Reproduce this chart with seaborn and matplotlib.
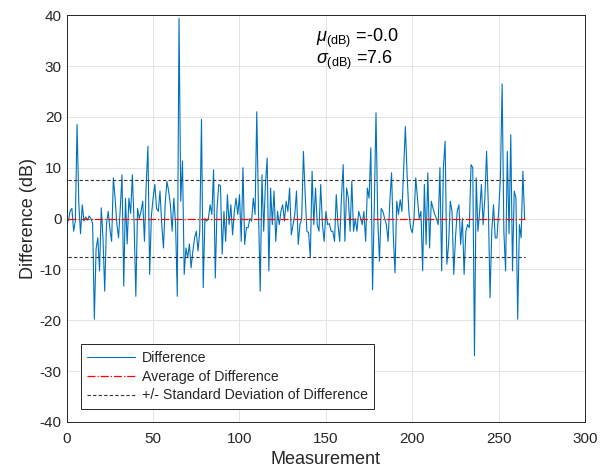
import numpy as np
import pandas as pd
import matplotlib
matplotlib.use('Agg')
import matplotlib.pyplot as plt
import seaborn as sns

diff_db = [
    -0.5, 1.5, 2.0, -2.5, -0.5, 18.5, 3.0, -3.0, 2.7, -0.5,
    0.3, -0.3, 0.5, 0.0, -1.0, -19.8, -6.0, -3.8, -10.3, 2.1,
    -4.0, -14.3, -1.2, 1.4, -2.0, -4.5, 8.0, 4.0, -1.0, -3.8,
    2.0, 8.6, -13.3, 4.0, -5.0, 4.0, 1.0, 8.6, -1.0, -15.3,
    2.0, 0.0, 1.4, 3.4, -4.5, 6.7, 14.2, -11.0, 0.5, 4.0,
    6.7, 2.0, 1.4, 5.4, -1.2, -5.8, 3.0, 7.3, 5.4, 2.7,
    -2.5, 4.0, -1.0, -15.3, 39.4, 3.4, 11.3, -11.0, -5.8, -7.7,
    -5.0, -9.7, -6.4, -3.8, -2.5, -6.4, -2.5, 19.5, -13.6, 0.0,
    -0.5, 0.0, 2.7, 0.8, 9.6, -11.7, 2.0, 6.7, 6.4, -7.0,
    1.4, -4.5, 4.7, -1.2, 2.7, -3.2, 1.4, 4.0, 0.8, 4.7,
    -4.5, 10.0, -5.1, -1.8, -1.8, 0.0, -0.5, 4.0, 0.8, 21.0,
    1.4, -14.3, 8.6, -2.5, 6.7, 11.9, -10.3, 6.0, -1.2, 5.4,
    -4.5, 1.4, -1.2, 1.4, 2.7, -0.5, 3.4, 1.4, 6.0, -3.2,
    -1.2, 0.8, 5.4, -5.1, -1.2, 0.0, 13.2, 4.7, -2.5, -2.8,
    -7.7, 9.3, -1.2, 6.0, -1.2, -2.5, 6.7, -1.2, -4.5, 1.4,
    -1.2, -1.0, -2.5, -2.5, -4.5, 4.7, -1.2, -4.5, 4.0, 10.6,
    -4.5, 6.0, 4.0, -2.5, 7.3, -2.5, 0.0, -2.5, 1.4, 0.2,
    -1.2, 1.4, -4.5, 6.0, 4.0, 13.9, -14.0, 2.0, 20.8, 0.0,
    -8.4, 2.0, 1.4, 0.0, -1.2, -4.5, 3.4, 9.0, -3.2, -10.7,
    3.4, 0.8, 3.7, 1.4, 10.0, 18.1, 8.6, 1.4, -1.8, -2.8,
    0.0, 8.0, 4.0, 0.0, 1.4, -10.3, 6.7, -5.1, 9.0, -5.8,
    3.4, 2.0, 0.8, 0.0, -1.2, 10.0, -10.3, 10.0, 15.2, -9.0,
    -5.1, 3.4, 1.4, -11.0, -3.8, 1.4, 2.7, -5.1, 0.0, -11.0,
    -2.5, -1.2, -1.8, 10.6, 10.0, -27.0, 8.0, -2.5, 1.4, 6.7,
    -1.2, 4.0, 13.2, 2.7, -15.6, -2.5, 2.7, -3.8, -3.8, 1.4,
    8.0, 26.5, -2.5, -10.3, 13.2, -3.0, 16.5, -10.3, 5.4, 4.0,
    -19.8, -1.2, -3.8, 9.3, 0.0,
]
measurement = list(range(1, len(diff_db) + 1))

mean_db = 0.0
std_db = 7.6
mean_label = '-0.0'
std_label = '7.6'

df = pd.DataFrame({'Measurement': measurement, 'Difference': diff_db})

sns.set_theme(style='whitegrid')
plt.rcParams['font.family'] = ['Liberation Sans', 'DejaVu Sans']
plt.rcParams['axes.unicode_minus'] = False
plt.rcParams['mathtext.fontset'] = 'custom'
plt.rcParams['mathtext.rm'] = 'Liberation Sans'
plt.rcParams['mathtext.it'] = 'Liberation Sans:italic'

fig = plt.figure(figsize=(6.12, 4.74), dpi=100)
ax = fig.add_axes([0.109, 0.110, 0.847, 0.858])

sns.lineplot(data=df, x='Measurement', y='Difference', ax=ax,
             color='#0072BD', linewidth=0.8, label='Difference')

x0, x1 = measurement[0], measurement[-1]
mean_line, = ax.plot([x0, x1], [mean_db, mean_db], linestyle='-.',
                     linewidth=0.9, label='Average of Difference')
mean_line.set_color('#ff0000')
ax.plot([x0, x1], [mean_db + std_db] * 2, color='#333333', linestyle='--',
        linewidth=0.8, dashes=(3, 2), label='+/- Standard Deviation of Difference')
ax.plot([x0, x1], [mean_db - std_db] * 2, color='#333333', linestyle='--',
        linewidth=0.8, dashes=(3, 2))

ax.set_xlim(0, 300)
ax.set_ylim(-40, 40)
ax.set_xticks(np.arange(0, 301, 50))
ax.set_yticks(np.arange(-40, 41, 10))
ax.set_xlabel('Measurement', fontsize=13, color='#262626', labelpad=4)
ax.set_ylabel('Difference (dB)', fontsize=13, color='#262626', labelpad=2)
ax.tick_params(axis='both', labelsize=11, labelcolor='#262626', color='#262626',
               direction='in', length=4, width=0.6)
ax.tick_params(axis='x', pad=7)
ax.grid(True, color='#e3e3e3', linewidth=0.7)
for s in ax.spines.values():
    s.set_color('#262626')
    s.set_linewidth(0.7)

ax.text(144, 37.8,
        r'$\mu_{\mathrm{(dB)}}$ =' + mean_label + '\n' + r'$\sigma_{\mathrm{(dB)}}$ =' + std_label,
        fontsize=13, va='top', ha='left', color='black', linespacing=0.95)

leg = ax.legend(loc='lower left', bbox_to_anchor=(0.027, 0.032), borderaxespad=0,
                fontsize=10.2, frameon=True, fancybox=False, framealpha=1,
                edgecolor='#262626', borderpad=0.45, labelspacing=0.35,
                handlelength=3.4, handletextpad=0.45)
leg.get_frame().set_linewidth(0.7)

fig.savefig('out.png', dpi=100)
